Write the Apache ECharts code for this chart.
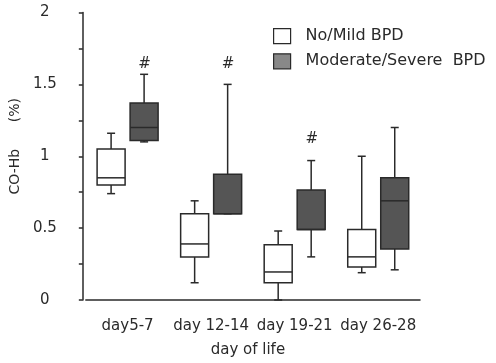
<!DOCTYPE html>
<html><head><meta charset="utf-8">
<script src="https://cdn.jsdelivr.net/npm/echarts@6/dist/echarts.min.js"></script>
<style>html,body{margin:0;padding:0;background:#fff}#c{width:496px;height:363px}</style>
</head><body><div id="c"></div>
<script>
const categories = ['day5-7', 'day 12-14', 'day 19-21', 'day 26-28'];
// [min, Q1, median, Q3, max]
const noMild = [
  [0.74, 0.80, 0.85, 1.05, 1.16],
  [0.12, 0.30, 0.39, 0.60, 0.69],
  [0.00, 0.12, 0.195, 0.385, 0.48],
  [0.19, 0.23, 0.30, 0.49, 1.00]
];
const modSev = [
  [1.10, 1.11, 1.20, 1.37, 1.57],
  [0.60, 0.60, 0.60, 0.875, 1.50],
  [0.30, 0.49, 0.49, 0.765, 0.97],
  [0.21, 0.355, 0.69, 0.85, 1.20]
];
// '#' significance marks above Moderate/Severe boxes: [category index, value]
const sigMarks = [[0, 1.64], [1, 1.64], [2, 1.12]];
const yTicks = [0, 0.5, 1, 1.5, 2];

const FONT = 'DejaVu Sans';
const INK = '#2a2a2a';

function boxRender(offset, fill) {
  return function (params, api) {
    const i = api.value(0);
    const cx = api.coord([i, 0])[0] + offset;
    const y = k => api.coord([i, api.value(k)])[1];
    const yMin = y(1), yQ1 = y(2), yMed = y(3), yQ3 = y(4), yMax = y(5);
    const hw = 14, cw = 4;
    const ls = { stroke: INK, lineWidth: 1.5 };
    return {
      type: 'group',
      children: [
        { type: 'line', shape: { x1: cx, y1: yQ3, x2: cx, y2: yMax }, style: ls },
        { type: 'line', shape: { x1: cx, y1: yQ1, x2: cx, y2: yMin }, style: ls },
        { type: 'line', shape: { x1: cx - cw, y1: yMax, x2: cx + cw, y2: yMax }, style: ls },
        { type: 'line', shape: { x1: cx - cw, y1: yMin, x2: cx + cw, y2: yMin }, style: ls },
        { type: 'rect', shape: { x: cx - hw, y: yQ3, width: hw * 2, height: yQ1 - yQ3 },
          style: { fill: fill, stroke: INK, lineWidth: 1.5 } },
        { type: 'line', shape: { x1: cx - hw, y1: yMed, x2: cx + hw, y2: yMed }, style: ls }
      ]
    };
  };
}

const chart = echarts.init(document.getElementById('c'), null, { renderer: 'canvas' });
chart.setOption({
  animation: false,
  backgroundColor: '#fff',
  textStyle: { fontFamily: FONT },
  legend: {
    orient: 'vertical', left: 268, top: 23,
    itemWidth: 17, itemHeight: 15, itemGap: 9,
    icon: 'rect',
    textStyle: { fontFamily: FONT, fontSize: 16, color: INK, padding: [4, 0, 0, 10] },
    data: [
      { name: 'No/Mild BPD', itemStyle: { color: '#fff', borderColor: INK, borderWidth: 1.2 } },
      { name: 'Moderate/Severe  BPD', itemStyle: { color: '#888', borderColor: INK, borderWidth: 1.2 } }
    ]
  },
  grid: { left: 82, right: 76, top: 12.5, bottom: 60.5 },
  xAxis: {
    type: 'category', data: categories,
    name: 'day of life', nameLocation: 'middle', nameGap: 43,
    nameTextStyle: { fontFamily: FONT, fontSize: 15, color: INK, padding: [0, 10, 0, 0] },
    axisLine: { lineStyle: { color: INK, width: 1.5 } },
    axisTick: { show: false },
    axisLabel: { fontFamily: FONT, fontSize: 15, color: INK, margin: 19, interval: 0, hideOverlap: false }
  },
  yAxis: {
    type: 'value', min: 0, max: 2, interval: 0.25, offset: 3,
    name: 'CO-Hb      (%)', nameLocation: 'middle', nameGap: 58,
    nameTextStyle: { fontFamily: FONT, fontSize: 14, color: INK, padding: [0, 0, 0, 20] },
    axisLine: { show: true, lineStyle: { color: INK, width: 1.5 } },
    axisTick: { show: true, length: 4, lineStyle: { color: INK, width: 1.5 } },
    splitLine: { show: false },
    axisLabel: {
      fontFamily: FONT, fontSize: 15, color: INK, align: 'center', margin: 38,
      formatter: v => (yTicks.indexOf(v) >= 0 ? String(v) : '')
    }
  },
  series: [
    {
      name: 'No/Mild BPD', type: 'custom',
      itemStyle: { color: '#fff', borderColor: INK },
      encode: { x: 0, y: [1, 2, 3, 4, 5] },
      data: noMild.map((d, i) => [i].concat(d)),
      renderItem: boxRender(-16.5, '#fff')
    },
    {
      name: 'Moderate/Severe  BPD', type: 'custom',
      itemStyle: { color: '#888' },
      encode: { x: 0, y: [1, 2, 3, 4, 5] },
      data: modSev.map((d, i) => [i].concat(d)),
      renderItem: boxRender(16.5, '#555')
    },
    {
      name: 'sig', type: 'custom',
      encode: { x: 0, y: 1 },
      data: sigMarks,
      renderItem: function (params, api) {
        const p = api.coord([api.value(0), api.value(1)]);
        return {
          type: 'text',
          style: { x: p[0] + 17, y: p[1], text: '#', fill: INK, font: '15px ' + FONT,
                   textAlign: 'center', textVerticalAlign: 'middle' }
        };
      }
    }
  ]
});
</script></body></html>
